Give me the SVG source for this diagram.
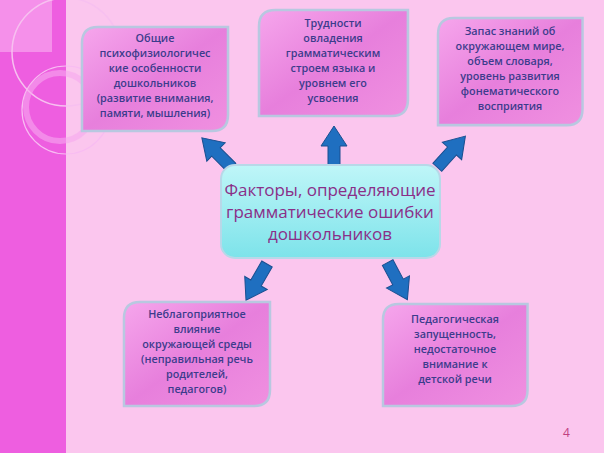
<svg xmlns="http://www.w3.org/2000/svg" width="604" height="453" viewBox="0 0 604 453">
<defs>
<linearGradient id="pg" x1="0" y1="0" x2="1" y2="1"><stop offset="0" stop-color="#f6a6ec"/><stop offset="0.5" stop-color="#e77fdc"/><stop offset="1" stop-color="#f090e0"/></linearGradient>
<linearGradient id="cg" x1="0" y1="0" x2="0" y2="1"><stop offset="0" stop-color="#bff6f8"/><stop offset="1" stop-color="#7de3ea"/></linearGradient>
<path id="arr" d="M-6,22 L-6,0 L-13,0 L0,-20 L13,0 L6,0 L6,22 Z"/>
<path id="bx" d="M16,0 H146 V88 Q146,104 130,104 H0 V16 Q0,0 16,0 Z"/>
</defs>
<style>
.box{fill:url(#pg);stroke:#b8c8e0;stroke-width:2.5}
.t{font-family:"Open Sans","DejaVu Sans",sans-serif;font-size:10.8px;font-weight:600;fill:#3c3c8c;text-anchor:middle}
.c{font-family:"Open Sans","DejaVu Sans",sans-serif;font-size:17px;fill:#8a2f88;text-anchor:middle}
.a{fill:#1f6fc0;stroke:#1a4f90;stroke-width:1}
</style>
<rect width="604" height="453" fill="#fbc6ee"/>
<rect width="66" height="453" fill="#ee5ee0"/>
<rect width="52" height="52" fill="#f590ea"/>
<circle cx="66" cy="52" r="54" fill="none" stroke="#f7c0f0" stroke-width="1.5"/>
<circle cx="66" cy="110" r="44" fill="none" stroke="#f8bcf2" stroke-width="1.2"/>
<circle cx="60" cy="107" r="34" fill="none" stroke="#f7a8ee" stroke-width="6" opacity="0.6"/>
<g id="connectors">
<use href="#arr" class="a" transform="translate(216,152) rotate(-45)"/>
<use href="#arr" class="a" transform="translate(334,146)"/>
<use href="#arr" class="a" transform="translate(452,151) rotate(42)"/>
<use href="#arr" class="a" transform="translate(256,283) rotate(-150)"/>
<use href="#arr" class="a" transform="translate(398,282) rotate(152)"/>
</g>
<g id="n1"><use href="#bx" class="box" transform="translate(82,27)"/>
<text class="t" x="155" y="42">Общие</text><text class="t" x="155" y="57">психофизиологичес</text><text class="t" x="155" y="72">кие особенности</text><text class="t" x="155" y="87">дошкольников</text><text class="t" x="155" y="102">(развитие внимания,</text><text class="t" x="155" y="117">памяти, мышления)</text></g>
<g id="n2"><use href="#bx" class="box" transform="translate(259,10) scale(1.02,1.02)"/>
<text class="t" x="333" y="27">Трудности</text><text class="t" x="333" y="42">овладения</text><text class="t" x="333" y="57">грамматическим</text><text class="t" x="333" y="72">строем языка и</text><text class="t" x="333" y="87">уровнем его</text><text class="t" x="333" y="102">усвоения</text></g>
<g id="n3"><use href="#bx" class="box" transform="translate(438,18) scale(0.99,1.03)"/>
<text class="t" x="510" y="35">Запас знаний об</text><text class="t" x="510" y="50">окружающем мире,</text><text class="t" x="510" y="65">объем словаря,</text><text class="t" x="510" y="80">уровень развития</text><text class="t" x="510" y="95">фонематического</text><text class="t" x="510" y="110">восприятия</text></g>
<g id="n4"><use href="#bx" class="box" transform="translate(124,302)"/>
<text class="t" x="197" y="318">Неблагоприятное</text><text class="t" x="197" y="333">влияние</text><text class="t" x="197" y="348">окружающей среды</text><text class="t" x="197" y="363">(неправильная речь</text><text class="t" x="197" y="378">родителей,</text><text class="t" x="197" y="393">педагогов)</text></g>
<g id="n5"><use href="#bx" class="box" transform="translate(383,304) scale(0.99,0.98)"/>
<text class="t" x="455" y="323">Педагогическая</text><text class="t" x="455" y="338">запущенность,</text><text class="t" x="455" y="353">недостаточное</text><text class="t" x="455" y="368">внимание к</text><text class="t" x="455" y="383">детской речи</text></g>
<g id="center"><rect x="221" y="165" width="219" height="93" rx="14" fill="url(#cg)" stroke="#b8d8e8" stroke-width="2"/>
<text class="c" x="330" y="196">Факторы, определяющие</text><text class="c" x="330" y="218">грамматические ошибки</text><text class="c" x="330" y="240">дошкольников</text></g>
<text x="563" y="437" font-family="Open Sans, sans-serif" font-size="12" fill="#c04080">4</text>
</svg>
